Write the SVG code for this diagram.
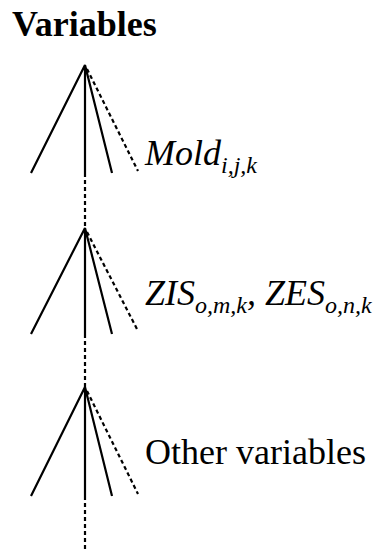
<svg xmlns="http://www.w3.org/2000/svg" width="381" height="550" viewBox="0 0 381 550">
<style>
.s{stroke:#000;stroke-width:2.2;fill:none}
.d{stroke:#000;stroke-width:2.2;fill:none;stroke-dasharray:4,3}
</style>
<rect width="381" height="550" fill="#fff"/>
<text id="title" x="12" y="36" font-size="36" font-weight="bold" font-family="Times New Roman">Variables</text>
<g id="connectors">
<line class="d" x1="85" y1="173" x2="85" y2="228"/>
<line class="d" x1="85" y1="334" x2="85" y2="387"/>
<line class="d" x1="85" y1="496" x2="85" y2="550"/>
</g>
<g id="tree1">
<path class="s" d="M31,173 L85,65 L85,173 M85,65 L112,173"/>
<line class="d" x1="87" y1="69" x2="138" y2="171"/>
<text x="145" y="165" font-size="36" font-style="italic" font-family="Times New Roman">Mold<tspan font-size="24" dy="8">i,j,k</tspan></text>
</g>
<g id="tree2">
<path class="s" d="M31,334 L85,228 L85,334 M85,228 L112,334"/>
<line class="d" x1="87" y1="232" x2="138" y2="331"/>
<text x="145" y="305" font-size="36" font-style="italic" font-family="Times New Roman">ZIS<tspan font-size="24" dy="8">o,m,k</tspan><tspan dy="-8">, ZES</tspan><tspan font-size="24" dy="8">o,n,k</tspan></text>
</g>
<g id="tree3">
<path class="s" d="M31,496 L85,387 L85,496 M85,387 L112,496"/>
<line class="d" x1="87" y1="391" x2="138" y2="494"/>
<text x="145" y="464" font-size="36" font-family="Times New Roman">Other variables</text>
</g>
</svg>
